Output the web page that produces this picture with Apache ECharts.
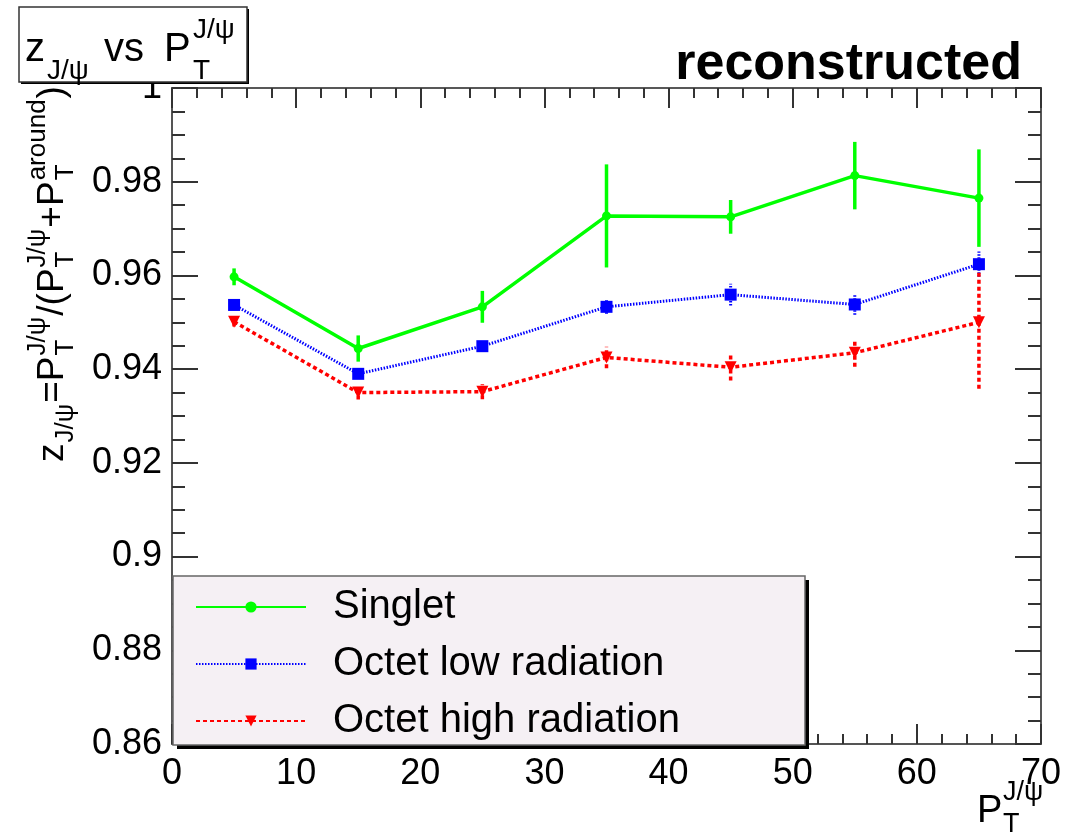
<!DOCTYPE html>
<html>
<head>
<meta charset="utf-8">
<script src="https://cdn.jsdelivr.net/npm/echarts@6/dist/echarts.min.js"></script>
<style>
html,body{margin:0;padding:0;background:#fff;}
#chart{width:1075px;height:835px;}
</style>
</head>
<body>
<div id="chart"></div>
<script>
// ---- data ----
const ptBins = [5, 15, 25, 35, 45, 55, 65];
const singlet = [0.9597, 0.9444, 0.9533, 0.9727, 0.9725, 0.9813, 0.9765];
const singletErr = [0.0018, 0.0028, 0.0034, 0.0110, 0.0036, 0.0072, 0.0104];
const octetLow = [0.9537, 0.9390, 0.9449, 0.9533, 0.9559, 0.9538, 0.9624];
const octetLowErr = [0.0006, 0.0005, 0.0007, 0.0015, 0.0023, 0.0022, 0.0027];
const octetHigh = [0.9501, 0.9350, 0.9352, 0.9425, 0.9404, 0.9435, 0.9500];
const octetHighErr = [0.0010, 0.0015, 0.0016, 0.0023, 0.0028, 0.0030, 0.0142];
const seriesNames = ['Singlet', 'Octet low radiation', 'Octet high radiation'];
const xTicks = [0, 10, 20, 30, 40, 50, 60, 70];
const yTicks = [0.86, 0.88, 0.9, 0.92, 0.94, 0.96, 0.98, 1];

const FONT = '"Liberation Sans", Arial, Helvetica, sans-serif';
const mctx = document.createElement('canvas').getContext('2d');
function tw(t, s) { mctx.font = s + 'px ' + FONT; return mctx.measureText(t).width; }

function txt(x, baseline, t, size, extra) {
  return Object.assign({
    type: 'text', z: 13, x: x, y: baseline - 0.35 * size,
    style: { text: t, fontSize: size, fontFamily: FONT, fill: '#000', align: 'left', verticalAlign: 'middle' }
  }, extra || {});
}

function formula(pieces, M, S) {
  const out = []; let x = 0;
  pieces.forEach(p => {
    if (p.t !== undefined) { out.push(txt(x, 0, p.t, M)); x += tw(p.t, M); }
    else if (p.sub !== undefined && p.sup === undefined) { out.push(txt(x + 1, 9, p.sub, S)); x += tw(p.sub, S) + 2; }
    else {
      out.push(txt(x + 1, -19, p.sup, S));
      out.push(txt(x + 1, 9, p.sub, S));
      x += Math.max(tw(p.sup, S), tw(p.sub, S)) + 2;
    }
  });
  return { children: out, width: x };
}

const yTitle = formula([
  { t: 'z' }, { sub: 'J/\u03c8' }, { t: '=P' }, { sup: 'J/\u03c8', sub: 'T' },
  { t: '/(P' }, { sup: 'J/\u03c8', sub: 'T' }, { t: '+P' }, { sup: 'around', sub: 'T' }, { t: ')' }
], 37, 26);

const C_G = '#00ff00', C_B = '#0000ff', C_R = '#ff0000';
const styles = [
  { color: C_G, width: 3.5, type: 'solid', dash: null, symbol: 'circle', size: 9 },
  { color: C_B, width: 3, type: [1.5, 1.5], dash: [1.5, 1.5], symbol: 'rect', size: 12 },
  { color: C_R, width: 3.5, type: [4, 3], dash: [4, 3], symbol: 'path://M0,0 L10,0 L5,10 Z', size: 12 }
];
const values = [singlet, octetLow, octetHigh];
const errs = [singletErr, octetLowErr, octetHighErr];

const series = [];
values.forEach((vals, i) => {
  const st = styles[i];
  series.push({
    type: 'custom', name: seriesNames[i] + ' err', z: 3,
    data: ptBins.map((x, k) => [x, vals[k], errs[i][k]]),
    encode: { x: 0, y: 1 },
    renderItem: function (params, api) {
      const x = api.value(0), y = api.value(1), e = api.value(2);
      const a = api.coord([x, y - e]), b = api.coord([x, y + e]);
      return { type: 'line', shape: { x1: a[0], y1: a[1], x2: b[0], y2: b[1] },
        style: { stroke: st.color, lineWidth: st.width, lineDash: st.dash } };
    },
    silent: true
  });
  series.push({
    type: 'line', name: seriesNames[i], z: 4,
    data: ptBins.map((x, k) => [x, vals[k]]),
    symbol: st.symbol, symbolSize: st.size, showAllSymbol: true,
    lineStyle: { color: st.color, width: st.width, type: st.type },
    itemStyle: { color: st.color },
    animation: false
  });
});

const GRID = { left: 172, right: 34, top: 88, bottom: 91 };
const GW = 1075 - GRID.left - GRID.right;
const GH = 835 - GRID.top - GRID.bottom;
const axisLineStyle = { color: '#555', width: 2 };
const tickStyle = { color: '#333', width: 2 };
const xMin = xTicks[0], xMax = xTicks[xTicks.length - 1];
const yMin = yTicks[0], yMax = yTicks[yTicks.length - 1];

// tick-only axes placed on the opposite side so their ticks point into the frame
function xTickAxis(pos, off) {
  return { type: 'value', position: pos, offset: off, min: xMin, max: xMax, interval: 10,
    axisLine: { show: false, onZero: false },
    axisTick: { show: true, length: 20, lineStyle: tickStyle },
    minorTick: { show: true, splitNumber: 5, length: 10, lineStyle: tickStyle },
    splitLine: { show: false }, axisLabel: { show: false } };
}
function yTickAxis(pos, off) {
  return { type: 'value', position: pos, offset: off, min: yMin, max: yMax, interval: 0.02,
    axisLine: { show: false, onZero: false },
    axisTick: { show: true, length: 26, lineStyle: tickStyle },
    minorTick: { show: true, splitNumber: 4, length: 13, lineStyle: tickStyle },
    splitLine: { show: false }, axisLabel: { show: false } };
}

const chart = echarts.init(document.getElementById('chart'), null, { renderer: 'canvas' });
chart.setOption({
  animation: false,
  backgroundColor: '#fff',
  grid: Object.assign({ containLabel: false }, GRID),
  xAxis: [{
    type: 'value', position: 'bottom', min: xMin, max: xMax, interval: 10,
    axisLine: { show: true, onZero: false, lineStyle: axisLineStyle },
    axisTick: { show: false }, minorTick: { show: false },
    splitLine: { show: false },
    axisLabel: { fontSize: 36, fontFamily: FONT, color: '#000', margin: 12 }
  }, {
    type: 'value', position: 'top', min: xMin, max: xMax, interval: 10,
    axisLine: { show: true, onZero: false, lineStyle: { color: '#222', width: 1.5 } },
    axisTick: { show: false }, minorTick: { show: false },
    splitLine: { show: false }, axisLabel: { show: false }
  }, xTickAxis('top', -GH), xTickAxis('bottom', -GH)],
  yAxis: [{
    type: 'value', position: 'left', min: yMin, max: yMax, interval: 0.02,
    axisLine: { show: true, onZero: false, lineStyle: axisLineStyle },
    axisTick: { show: false }, minorTick: { show: false },
    splitLine: { show: false },
    axisLabel: { fontSize: 36, fontFamily: FONT, color: '#000', margin: 10,
      formatter: v => String(parseFloat(v.toFixed(2))) }
  }, {
    type: 'value', position: 'right', min: yMin, max: yMax, interval: 0.02,
    axisLine: { show: true, onZero: false, lineStyle: axisLineStyle },
    axisTick: { show: false }, minorTick: { show: false },
    splitLine: { show: false }, axisLabel: { show: false }
  }, yTickAxis('right', -GW), yTickAxis('left', -GW)],
  legend: {
    data: seriesNames, orient: 'vertical', left: 195, top: 587, z: 20,
    itemWidth: 110, itemHeight: 14, itemGap: 17, padding: 0,
    textStyle: { fontSize: 40, fontFamily: FONT, color: '#000', padding: [0, 0, 0, 22] },
    selectedMode: false
  },
  graphic: [
    { type: 'rect', z: 10, shape: { x: 177, y: 580, width: 632, height: 169 }, style: { fill: '#000' } },
    { type: 'rect', z: 11, shape: { x: 173, y: 576, width: 632, height: 169 }, style: { fill: '#f5f0f4', stroke: '#666', lineWidth: 1.5 } },
    { type: 'rect', z: 10, shape: { x: 21, y: 9, width: 228, height: 75 }, style: { fill: '#000' } },
    { type: 'rect', z: 11, shape: { x: 19, y: 7, width: 228, height: 75 }, style: { fill: '#fff', stroke: '#333', lineWidth: 1.5 } },
    { type: 'group', z: 12, children: [
      txt(25, 64, 'z', 40),
      txt(47, 81, 'J/\u03c8', 28),
      txt(104, 64, 'vs', 40),
      txt(164, 64, 'P', 40),
      txt(193, 40, 'J/\u03c8', 28),
      txt(193, 81, 'T', 28)
    ] },
    { type: 'text', z: 12, x: 1022, y: 83 - 0.35 * 52,
      style: { text: 'reconstructed', fontSize: 52, fontWeight: 'bold', fontFamily: FONT, fill: '#000', align: 'right', verticalAlign: 'middle' } },
    { type: 'group', z: 12, children: [
      txt(977, 825, 'P', 38),
      txt(1003, 802, 'J/\u03c8', 27),
      txt(1003, 834, 'T', 27)
    ] },
    { type: 'group', z: 12, x: 66, y: 462, rotation: Math.PI / 2, children: yTitle.children }
  ],
  series: series
});
</script>
</body>
</html>
